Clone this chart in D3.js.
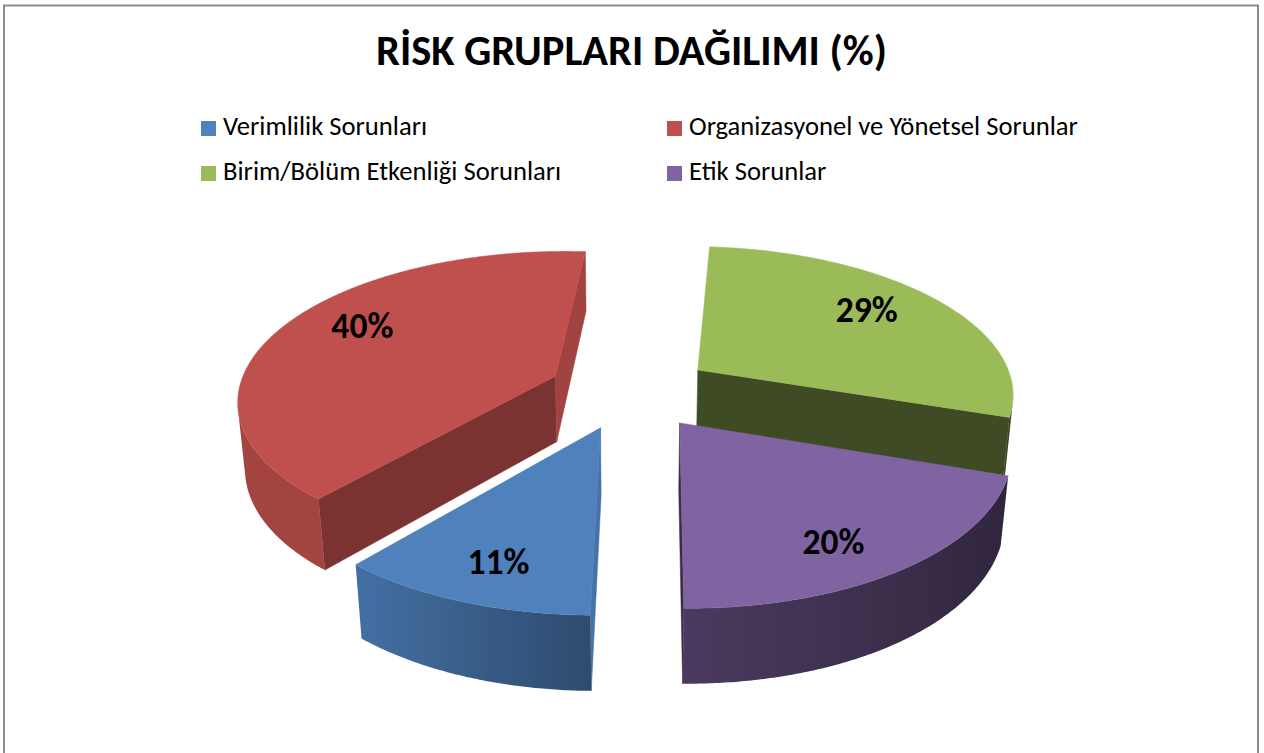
<!DOCTYPE html>
<html><head><meta charset="utf-8">
<script src="https://cdn.jsdelivr.net/npm/d3@7"></script>
<style>body{margin:0;background:#fff} svg{display:block}</style>
</head><body>
<svg id="chart" width="1264" height="753"></svg>
<script>
// ---------- data ----------
const chartTitle = "RİSK GRUPLARI DAĞILIMI (%)";
const categories = ["Verimlilik Sorunları", "Organizasyonel ve Yönetsel Sorunlar", "Birim/Bölüm Etkenliği Sorunları", "Etik Sorunlar"];
const values = [11, 40, 29, 20];
const labelTexts = ["11%", "40%", "29%", "20%"];

// ---------- style ----------
const colors = ["#4F81BD", "#C0504D", "#9BBB59", "#8064A2"];
const cutStartShade = [0.88, 0.635, 0.85, 0.45];
const cutEndShade   = [0.88, 0.84, 0.40, 0.45];
const labelShift = [[-9, 18], [-1, -14], [1, -9], [4, 20]];
const FONT = "Calibri, Carlito, Lato, 'Open Sans', sans-serif";

const svg = d3.select("#chart");
svg.append("rect").attr("x", 4).attr("y", 5.5).attr("width", 1254).attr("height", 800)
  .attr("fill", "none").attr("stroke", "#8c8c8c").attr("stroke-width", 2);

function fit(sel, base, target) {
  sel.attr("font-size", base);
  const w = sel.node().getComputedTextLength();
  const fs = base * target / w;
  sel.attr("font-size", fs);
  return fs;
}

// title
const t = svg.append("text").attr("x", 631.5).attr("y", 65).attr("text-anchor", "middle")
  .attr("font-family", FONT).attr("font-weight", "bold").attr("fill", "#000").text(chartTitle);
fit(t, 36, 511);

// legend
const legendPos = [[201, 121], [667, 121], [201, 166], [667, 166]];
const lg = svg.append("g");
let legFs = null;
categories.forEach((c, i) => {
  const [x, y] = legendPos[i];
  lg.append("rect").attr("x", x).attr("y", y).attr("width", 15).attr("height", 15).attr("fill", colors[i]);
  const tx = lg.append("text").attr("x", x + 22).attr("y", y + 14).attr("font-family", FONT)
    .attr("fill", "#000").text(c);
  if (i === 1) legFs = fit(tx, 23, 389);
});
lg.selectAll("text").attr("font-size", legFs);

// ---------- 3D pie geometry ----------
const cx = 630.5, cy = 390.6, S = 317, alpha = 27.7 * Math.PI / 180, Dist = 5.98, thick = 0.24, explode = 0.26, firstAngle = 180.7;
const sa = Math.sin(alpha), ca = Math.cos(alpha);
const cam = [0, Dist * sa, Dist * ca];
function proj(u, y, w) {
  const depth = Dist - y * sa - w * ca;
  const k = S * Dist / depth;
  return [cx + k * u, cy - k * (y * ca - w * sa)];
}
function visible(n, p) {
  return n[0] * (cam[0] - p[0]) + n[1] * (cam[1] - p[1]) + n[2] * (cam[2] - p[2]) > 0;
}
const pie = d3.pie().sort(null).value(d => d)
  .startAngle(firstAngle * Math.PI / 180).endAngle((firstAngle + 360) * Math.PI / 180);
const arcs = pie(values).map((a, i) => {
  const mid = (a.startAngle + a.endAngle) / 2;
  return { i, a0: a.startAngle, a1: a.endAngle, mid, ou: explode * Math.sin(mid), ow: -explode * Math.cos(mid) };
});
function shade(col, f) {
  const c = d3.rgb(col);
  return d3.rgb(c.r * f, c.g * f, c.b * f).formatHex();
}
function sideShade(theta) {
  const nu = Math.sin(theta);
  return nu < 0 ? Math.min(0.85, 0.58 - 0.45 * nu) : 0.58 - 0.22 * nu;
}
const line = d3.line();
const defs = svg.append("defs");
const pieG = svg.append("g");

const order = arcs.slice().sort((a, b) => a.ow - b.ow);
order.forEach(s => {
  const g = pieG.append("g");
  const col = colors[s.i];
  const P = (r, th, y) => [s.ou + r * Math.sin(th), y, s.ow - r * Math.cos(th)];
  const pr = p => proj(p[0], p[1], p[2]);
  // cut faces
  [[s.a0, -1, cutStartShade[s.i]], [s.a1, 1, cutEndShade[s.i]]].forEach(([a, sg, f]) => {
    const n = [sg * Math.cos(a), 0, sg * Math.sin(a)];
    const pts = [P(0, a, 0), P(1, a, 0), P(1, a, -thick), P(0, a, -thick)];
    if (visible(n, pts[1])) {
      g.append("path").attr("d", line(pts.map(pr)) + "Z").attr("fill", shade(col, f))
        .attr("stroke", shade(col, f)).attr("stroke-width", 0.5).attr("stroke-linejoin", "round");
    }
  });
  // outer side
  const N = Math.max(8, Math.ceil((s.a1 - s.a0) / (Math.PI / 360)));
  const ths = d3.range(N + 1).map(k => s.a0 + (s.a1 - s.a0) * k / N);
  let runs = [], cur = null;
  for (let k = 0; k < N; k++) {
    const tm = (ths[k] + ths[k + 1]) / 2;
    const n = [Math.sin(tm), 0, -Math.cos(tm)];
    if (visible(n, P(1, tm, 0))) {
      if (!cur) { cur = [ths[k]]; runs.push(cur); }
      cur.push(ths[k + 1]);
    } else cur = null;
  }
  runs.forEach((run, ri) => {
    const topPts = run.map(th => pr(P(1, th, 0)));
    const botPts = run.map(th => pr(P(1, th, -thick))).reverse();
    const xs = topPts.map(p => p[0]);
    const x0 = d3.min(xs), x1 = d3.max(xs);
    const id = "side" + s.i + "_" + ri;
    const gr = defs.append("linearGradient").attr("id", id).attr("gradientUnits", "userSpaceOnUse")
      .attr("x1", x0).attr("x2", x1).attr("y1", 0).attr("y2", 0);
    const stops = run.map((th, k) => ({ o: (x1 - x0) > 0 ? (xs[k] - x0) / (x1 - x0) : 0, c: shade(col, sideShade(th)) }))
      .sort((a, b) => a.o - b.o);
    stops.forEach(st => gr.append("stop").attr("offset", st.o).attr("stop-color", st.c));
    g.append("path").attr("d", line(topPts.concat(botPts)) + "Z").attr("fill", `url(#${id})`);
  });
  // top face
  const topFace = [pr(P(0, 0, 0))].concat(ths.map(th => pr(P(1, th, 0))));
  g.append("path").attr("d", line(topFace) + "Z").attr("fill", col)
    .attr("stroke", col).attr("stroke-width", 0.5).attr("stroke-linejoin", "round");
});

// labels
const labG = svg.append("g");
let labFs = null;
arcs.forEach(s => {
  const r = 0.7;
  const p = proj(s.ou + r * Math.sin(s.mid), 0, s.ow - r * Math.cos(s.mid));
  const tx = labG.append("text").attr("text-anchor", "middle").attr("font-family", FONT)
    .attr("font-weight", "bold").attr("fill", "#000").text(labelTexts[s.i]);
  if (labFs === null) labFs = fit(tx, 34, 62);
  tx.attr("font-size", labFs).attr("x", p[0] + labelShift[s.i][0])
    .attr("y", p[1] + labelShift[s.i][1] + 0.36 * labFs);
});
</script>
</body></html>
